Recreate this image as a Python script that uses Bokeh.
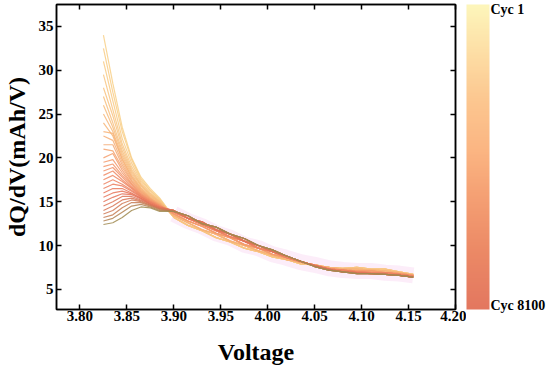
import numpy as np
from bokeh.plotting import figure
from bokeh.layouts import row
from bokeh.models import (Range1d, LinearAxis, FixedTicker, ColorBar,
                          LinearColorMapper)
from bokeh.embed import file_html
from bokeh.resources import INLINE

# ---------------- data ----------------
voltage = [3.825, 3.835, 3.845, 3.855, 3.865, 3.875, 3.885,
           3.900, 3.915, 3.930, 3.945, 3.960, 3.975, 3.990, 4.005, 4.020,
           4.035, 4.050, 4.065, 4.080, 4.095, 4.110, 4.125, 4.140, 4.155]

# dQ/dV at 3.825 .. 3.885 V, cycle 1 (first) -> cycle 8100 (last)
heads = [
    [34.0, 28.5, 23.5, 20.0, 17.8, 16.5, 15.4],
    [32.5, 27.5, 23.0, 19.8, 17.6, 16.3, 15.3],
    [31.0, 26.5, 22.2, 19.4, 17.4, 16.2, 15.2],
    [29.5, 25.5, 21.6, 19.0, 17.2, 16.0, 15.1],
    [28.0, 24.8, 21.2, 18.7, 17.0, 15.9, 15.0],
    [27.0, 24.0, 20.8, 18.5, 16.9, 15.8, 15.0],
    [26.0, 23.5, 20.5, 18.3, 16.8, 15.7, 14.9],
    [25.0, 23.0, 20.2, 18.1, 16.6, 15.6, 14.9],
    [24.0, 22.5, 19.9, 17.9, 16.5, 15.5, 14.8],
    [23.0, 22.8, 19.8, 17.8, 16.4, 15.4, 14.8],
    [22.5, 22.0, 19.5, 17.6, 16.3, 15.4, 14.7],
    [21.5, 21.5, 19.2, 17.4, 16.2, 15.3, 14.7],
    [21.0, 20.8, 18.9, 17.3, 16.1, 15.3, 14.6],
    [20.0, 20.5, 18.6, 17.1, 16.0, 15.2, 14.6],
    [19.5, 19.8, 18.3, 17.0, 15.9, 15.2, 14.6],
    [19.0, 19.3, 18.0, 16.9, 15.8, 15.1, 14.5],
    [18.5, 18.9, 17.8, 16.7, 15.8, 15.1, 14.5],
    [18.0, 18.5, 17.5, 16.6, 15.7, 15.0, 14.5],
    [17.5, 18.0, 17.3, 16.5, 15.6, 15.0, 14.4],
    [17.0, 17.5, 17.0, 16.3, 15.6, 14.9, 14.4],
    [16.5, 17.0, 16.8, 16.2, 15.5, 14.9, 14.4],
    [16.0, 16.5, 16.5, 16.0, 15.4, 14.8, 14.3],
    [15.5, 16.0, 16.2, 15.9, 15.4, 14.8, 14.3],
    [15.0, 15.5, 15.9, 15.8, 15.3, 14.7, 14.3],
    [14.5, 15.0, 15.6, 15.6, 15.2, 14.7, 14.2],
    [14.0, 14.5, 15.2, 15.4, 15.1, 14.6, 14.2],
    [13.6, 14.0, 14.8, 15.2, 15.0, 14.6, 14.2],
    [13.2, 13.5, 14.3, 14.9, 14.9, 14.5, 14.1],
    [12.8, 13.1, 13.8, 14.5, 14.7, 14.4, 14.0],
    [12.4, 12.6, 13.2, 14.0, 14.4, 14.3, 13.9],
]

# dQ/dV at 3.900 .. 4.155 V, six groups from early to late cycles
tail_0 = [13.2, 12.3, 11.7, 10.9, 10.4, 9.7, 9.3, 8.7, 8.4, 7.9, 7.8, 7.5, 7.4, 7.5, 7.3, 7.3, 7.0, 6.7]
tail_1 = [13.4, 12.6, 11.8, 11.3, 10.5, 10.0, 9.4, 8.9, 8.4, 8.1, 7.7, 7.5, 7.3, 7.3, 7.2, 7.1, 6.9, 6.6]
tail_2 = [13.6, 12.8, 12.2, 11.4, 10.9, 10.1, 9.7, 9.0, 8.6, 8.1, 7.8, 7.4, 7.2, 7.1, 7.1, 6.9, 6.8, 6.6]
tail_3 = [13.8, 13.1, 12.4, 11.7, 11.0, 10.5, 9.7, 9.3, 8.6, 8.2, 7.7, 7.3, 7.2, 7.0, 6.9, 6.9, 6.7, 6.5]
tail_4 = [14.0, 13.1, 12.7, 11.8, 11.3, 10.5, 10.0, 9.3, 8.8, 8.2, 7.7, 7.3, 7.0, 6.9, 6.8, 6.7, 6.6, 6.4]
tail_5 = [13.9, 13.4, 12.5, 12.1, 11.3, 10.8, 10.0, 9.5, 8.8, 8.2, 7.6, 7.2, 7.0, 6.8, 6.8, 6.7, 6.6, 6.4]
tails = [tail_0, tail_1, tail_2, tail_3, tail_4, tail_5]
tail_group = [0] * 5 + [1] * 5 + [2] * 5 + [3] * 5 + [4] * 5 + [5] * 5

x_ticks = [3.80, 3.85, 3.90, 3.95, 4.00, 4.05, 4.10, 4.15, 4.20]
x_tick_labels = ["3.80", "3.85", "3.90", "3.95", "4.00", "4.05", "4.10", "4.15", "4.20"]
y_ticks = [5, 10, 15, 20, 25, 30, 35]
y_tick_labels = ["5", "10", "15", "20", "25", "30", "35"]
cb_ticks = [0.014, 0.984]
cb_labels = ["Cyc 8100", "Cyc 1"]

X_MIN, X_MAX = 3.775, 4.20
Y_MIN, Y_MAX = 2.7, 37.5

# ---------------- styling helpers ----------------
def hex2rgb(h):
    h = h.lstrip("#")
    return np.array([int(h[i:i + 2], 16) for i in (0, 2, 4)], dtype=float)

def ramp(anchors, n):
    pos = np.array([a[0] for a in anchors])
    cols = np.array([hex2rgb(a[1]) for a in anchors])
    out = []
    for t in np.linspace(0, 1, n):
        rgb = [np.interp(t, pos, cols[:, k]) for k in range(3)]
        out.append("#%02x%02x%02x" % tuple(int(round(c)) for c in rgb))
    return out

bar_anchors = [(0.0, "#E3775F"), (0.2, "#EC8A66"), (0.4, "#F6A476"),
               (0.52, "#FBB582"), (0.69, "#FCC790"), (0.85, "#FDDFA6"), (1.0, "#FDF6BB")]
line_anchors = [(0.0, "#F8D088"), (0.3, "#F7B478"), (0.55, "#F29068"),
                (0.78, "#E6725A"), (0.92, "#CC7A55"), (1.0, "#A08A50")]
line_colors = ramp(line_anchors, len(heads))

FONT = "Liberation Serif"
H = 370
TOP, BOTTOM = 4, 61

p = figure(width=466, height=H, x_range=Range1d(X_MIN, X_MAX),
           y_range=Range1d(Y_MIN, Y_MAX), output_backend="svg",
           toolbar_location=None, min_border_left=46, min_border_top=TOP,
           min_border_right=11, min_border_bottom=0)
p.grid.visible = False
p.outline_line_color = "black"
p.outline_line_width = 1.5

# faint pink halo behind the band
p.line(voltage[7:], tail_2, line_width=16, color="#F6CBEF", alpha=0.35)

for i, head in enumerate(heads):
    ys = head + tails[tail_group[i]]
    p.line(voltage, ys, line_color=line_colors[i], line_width=1.2, line_alpha=0.85)

def style_axis(ax, ticks, labels, show, standoff=3):
    ax.ticker = FixedTicker(ticks=ticks)
    ax.major_label_overrides = {t: l for t, l in zip(ticks, labels)}
    ax.major_tick_in = 5
    ax.major_tick_out = 0
    ax.minor_tick_line_color = None
    ax.axis_line_width = 1.5
    ax.major_tick_line_width = 1.5
    ax.major_label_text_font = FONT
    ax.major_label_text_font_style = "bold"
    ax.major_label_standoff = standoff
    if show:
        ax.major_label_text_color = "black"
        ax.major_label_text_font_size = "15px"
    else:
        ax.major_label_text_color = None
        ax.major_label_text_font_size = "0px"

style_axis(p.xaxis[0], x_ticks, x_tick_labels, True, standoff=1)
style_axis(p.yaxis[0], y_ticks, y_tick_labels, True, standoff=3)
p.xaxis[0].axis_label = "Voltage"
p.yaxis[0].axis_label = "dQ/dV(mAh/V)"
for ax in (p.xaxis[0], p.yaxis[0]):
    ax.axis_label_text_font = FONT
    ax.axis_label_text_font_style = "bold"
    ax.axis_label_text_font_size = "24px"
    ax.axis_label_text_color = "black"
p.xaxis[0].axis_label_standoff = 15
p.yaxis[0].axis_label_standoff = 6

top_ax = LinearAxis()
style_axis(top_ax, x_ticks, x_tick_labels, False, standoff=0)
p.add_layout(top_ax, "above")
right_ax = LinearAxis()
style_axis(right_ax, y_ticks, y_tick_labels, False, standoff=0)
p.add_layout(right_ax, "right")

# ---------------- colour bar in its own narrow figure ----------------
pc = figure(width=80, height=H, output_backend="svg", toolbar_location=None,
            x_axis_location=None, y_axis_location=None,
            min_border_left=0, min_border_right=0, min_border_top=TOP,
            min_border_bottom=BOTTOM, x_range=Range1d(0, 1), y_range=Range1d(0, 1))
pc.grid.visible = False
pc.outline_line_color = None

mapper = LinearColorMapper(palette=ramp(bar_anchors, 256), low=0, high=1)
cb = ColorBar(color_mapper=mapper, ticker=FixedTicker(ticks=cb_ticks),
              major_label_overrides={t: l for t, l in zip(cb_ticks, cb_labels)},
              width=23, height=H - TOP - BOTTOM, padding=0, margin=0,
              label_standoff=1, location="top_left",
              major_tick_in=0, major_tick_out=0,
              minor_tick_in=0, minor_tick_out=0,
              major_tick_line_color=None, minor_tick_line_color=None,
              bar_line_color=None, border_line_color=None,
              background_fill_alpha=0,
              major_label_text_font=FONT, major_label_text_font_style="bold",
              major_label_text_font_size="14px", major_label_text_color="black")
pc.add_layout(cb, "center")

layout = row(p, pc, spacing=0)
open("out.html", "w").write(file_html(layout, INLINE))
